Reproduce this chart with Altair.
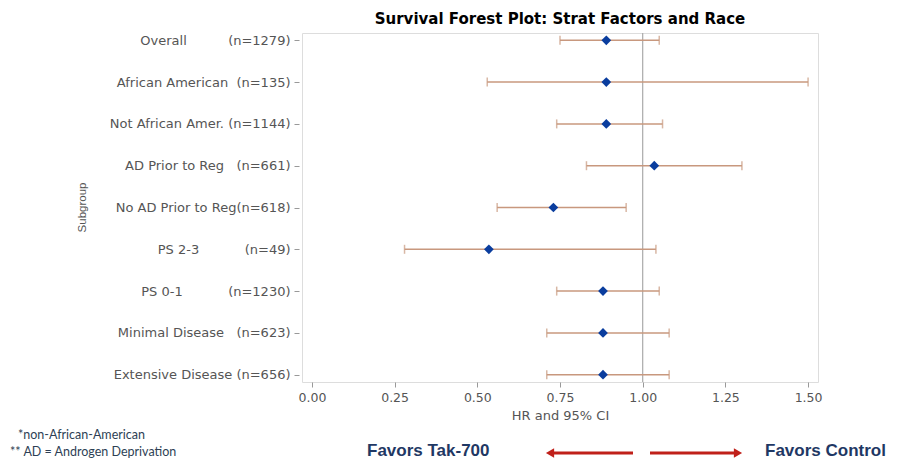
import altair as alt
import pandas as pd

NB = "\u00a0"

subgroups = [
    "Overall" + NB * 10 + "(n=1279)",
    "African American" + NB * 2 + "(n=135)",
    "Not African Amer." + NB + "(n=1144)",
    "AD Prior to Reg" + NB * 3 + "(n=661)",
    "No AD Prior to Reg(n=618)",
    "PS 2-3" + NB * 11 + "(n=49)",
    "PS 0-1" + NB * 11 + "(n=1230)",
    "Minimal Disease" + NB * 3 + "(n=623)",
    "Extensive Disease" + NB + "(n=656)",
]
hr = [0.89, 0.89, 0.89, 1.035, 0.73, 0.535, 0.88, 0.88, 0.88]
ci_low = [0.75, 0.53, 0.74, 0.83, 0.56, 0.28, 0.74, 0.71, 0.71]
ci_high = [1.05, 1.50, 1.06, 1.30, 0.95, 1.04, 1.05, 1.08, 1.08]
x_ticks = [0.0, 0.25, 0.5, 0.75, 1.0, 1.25, 1.5]
ref_value = [1.0]

title_text = "Survival Forest Plot: Strat Factors and Race"
x_title = "HR and 95% CI"
y_title = "Subgroup"
footnotes = ["*non-African-American", "** AD = Androgen Deprivation"]
favors = ["Favors Tak-700", "Favors Control"]

df = pd.DataFrame({"subgroup": subgroups, "hr": hr, "lo": ci_low, "hi": ci_high})

TAN = "#c8987e"
BLUE = "#0a3d9e"
NAVY = "#1f3864"
RED = "#c0201a"

xscale = alt.Scale(domain=[-0.03, 1.53], nice=False, zero=False)
yscale = alt.Scale(type="point", padding=0.175)
Y = alt.Y(
    "subgroup:N",
    sort=subgroups,
    scale=yscale,
    axis=alt.Axis(
        title=y_title,
        titleAngle=-90,
        titleX=-217,
        titleY=174,
        titleBaseline="middle",
        titleAlign="center",
        titleFont="Liberation Sans",
        titleFontSize=11.5,
        titleFontWeight="normal",
        titleColor="#555555",
        labelFont="DejaVu Sans",
        labelFontSize=13,
        labelColor="#555555",
        labelPadding=4,
        labelLimit=400,
        tickSize=5,
        offset=3,
        tickColor="#999999",
        domain=False,
        grid=False,
    ),
)

base = alt.Chart(df)

bars = base.mark_rule(color=TAN, strokeWidth=1.5).encode(
    y=Y,
    x=alt.X(
        "lo:Q",
        scale=xscale,
        axis=alt.Axis(
            values=x_ticks,
            format=".2f",
            title=x_title,
            titleFont="DejaVu Sans",
            titleFontSize=13,
            titleFontWeight="normal",
            titleColor="#555555",
            titlePadding=6,
            labelFont="DejaVu Sans",
            labelFontSize=12.5,
            labelColor="#555555",
            labelPadding=4,
            tickSize=5,
            tickColor="#999999",
            domain=False,
            grid=False,
        ),
    ),
    x2="hi:Q",
)

cap_lo = base.mark_tick(color=TAN, thickness=1.5, size=9).encode(
    y=alt.Y("subgroup:N", sort=subgroups, scale=yscale), x=alt.X("lo:Q", scale=xscale)
)
cap_hi = base.mark_tick(color=TAN, thickness=1.5, size=9).encode(
    y=alt.Y("subgroup:N", sort=subgroups, scale=yscale), x=alt.X("hi:Q", scale=xscale)
)

ref = alt.Chart(pd.DataFrame({"v": ref_value})).mark_rule(
    color="#aaaaaa", strokeWidth=1.2
).encode(x=alt.X("v:Q", scale=xscale))

points = base.mark_point(shape="diamond", filled=True, size=95, color=BLUE, opacity=1).encode(
    y=alt.Y("subgroup:N", sort=subgroups, scale=yscale), x=alt.X("hr:Q", scale=xscale)
)

ann = pd.DataFrame({"k": [0]})
fn1 = alt.Chart(ann).mark_text(
    text=footnotes[0], align="left", baseline="middle", font="Lato", fontSize=12.5, color="#2e3f55"
).encode(x=alt.value(-284), y=alt.value(402))
fn2 = alt.Chart(ann).mark_text(
    text=footnotes[1], align="left", baseline="middle", font="Lato", fontSize=12.5, color="#2e3f55"
).encode(x=alt.value(-292), y=alt.value(419))

fav1 = alt.Chart(ann).mark_text(
    text=favors[0], align="left", baseline="middle", font="Liberation Sans",
    fontWeight="bold", fontSize=17, color=NAVY
).encode(x=alt.value(65), y=alt.value(418))
fav2 = alt.Chart(ann).mark_text(
    text=favors[1], align="left", baseline="middle", font="Liberation Sans",
    fontWeight="bold", fontSize=17, color=NAVY
).encode(x=alt.value(463), y=alt.value(418))

arr_l = alt.Chart(ann).mark_rule(color=RED, strokeWidth=3).encode(
    x=alt.value(248), x2=alt.value(331), y=alt.value(420)
)
arr_r = alt.Chart(ann).mark_rule(color=RED, strokeWidth=3).encode(
    x=alt.value(348), x2=alt.value(436), y=alt.value(420)
)
head_l = alt.Chart(ann).mark_point(shape="triangle-left", filled=True, size=90, color=RED, opacity=1).encode(
    x=alt.value(248), y=alt.value(420)
)
head_r = alt.Chart(ann).mark_point(shape="triangle-right", filled=True, size=90, color=RED, opacity=1).encode(
    x=alt.value(436), y=alt.value(420)
)

chart = (
    alt.layer(ref, bars, cap_lo, cap_hi, points, fn1, fn2, fav1, fav2, arr_l, arr_r, head_l, head_r)
    .properties(
        width=516,
        height=349,
        title=alt.TitleParams(
            text=title_text,
            anchor="middle",
            font="DejaVu Sans",
            fontSize=15,
            fontWeight="bold",
            color="#000000",
            offset=5,
        ),
        autosize=alt.AutoSizeParams(type="none"),
        padding={"left": 294, "top": 25, "right": 70, "bottom": 80},
    )
    .configure_view(stroke="#b8b8b8", strokeWidth=1.5)
    .configure(background="white")
)

chart.save("out.html", embed_options={"renderer": "svg", "actions": False})
